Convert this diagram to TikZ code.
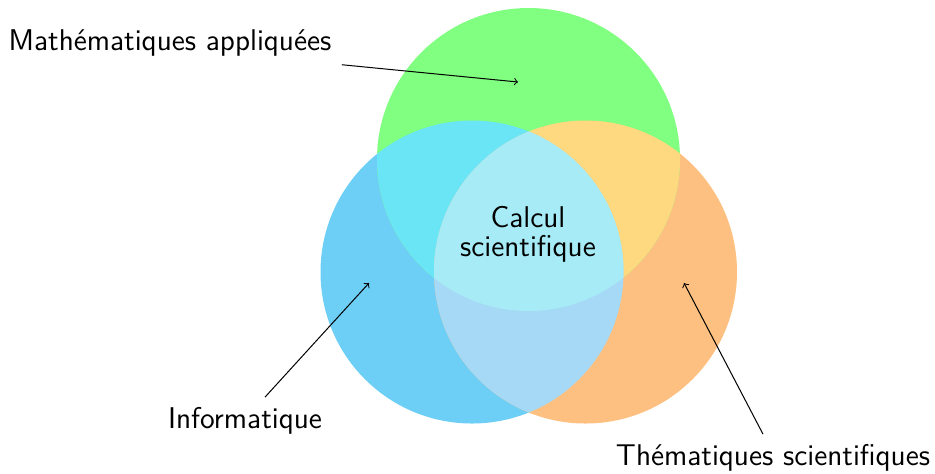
\documentclass[tikz,border=0pt]{standalone}
\usepackage{fontspec}
\definecolor{gOnly}{HTML}{80FF80}
\definecolor{bOnly}{HTML}{6DCFF6}
\definecolor{oOnly}{HTML}{FEC080}
\definecolor{bg}{HTML}{6AE5F5}
\definecolor{go}{HTML}{FFD980}
\definecolor{bo}{HTML}{A6D9F5}
\definecolor{bgo}{HTML}{A6EBF5}
\begin{document}
\begin{tikzpicture}[x=0.5pt,y=-0.5pt,
  lbl/.style={font=\sffamily\fontsize{15}{17.5}\selectfont, inner sep=3pt, align=center},
  pointer/.style={->, line width=0.5pt}]
\useasboundingbox (0,0) rectangle (935,473);
\def\R{151.5}
\def\cg{(528.5,159.5)}
\def\cb{(472,272)}
\def\co{(585.5,272)}
% base circles
\fill[bOnly] \cb circle[radius=\R];
\fill[oOnly] \co circle[radius=\R];
\fill[gOnly] \cg circle[radius=\R];
% pairwise overlaps
\begin{scope}
  \clip \cb circle[radius=\R];
  \fill[bg] \cg circle[radius=\R];
\end{scope}
\begin{scope}
  \clip \co circle[radius=\R];
  \fill[go] \cg circle[radius=\R];
\end{scope}
\begin{scope}
  \clip \cb circle[radius=\R];
  \fill[bo] \co circle[radius=\R];
\end{scope}
\begin{scope}
  \clip \cb circle[radius=\R];
  \clip \co circle[radius=\R];
  \fill[bgo] \cg circle[radius=\R];
\end{scope}
% labels
\node[lbl] (calc) at (528,234) {Calcul\\[-3pt]scientifique};
\node[lbl] (math) at (170,43) {Mathématiques appliquées};
\node[lbl] (info) at (245,421) {Informatique};
\node[lbl] (them) at (773,458) {Thématiques scientifiques};
% pointer ends
\coordinate (mtip) at (518,82);
\coordinate (itip) at (369,283);
\coordinate (ttip) at (684,283);
\draw[pointer] ([xshift=2pt,yshift=-1pt]math.south east) -- (mtip);
\draw[pointer] ([xshift=10pt,yshift=2pt]info.north) -- (itip);
\draw[pointer] ([xshift=-5pt,yshift=2pt]them.north) -- (ttip);
\end{tikzpicture}
\end{document}
